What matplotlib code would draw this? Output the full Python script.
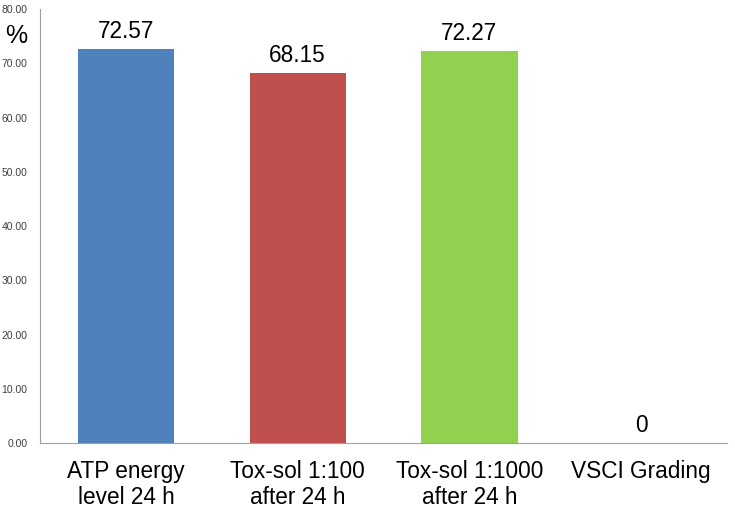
import matplotlib
matplotlib.use("Agg")
import matplotlib.pyplot as plt

categories = ["ATP energy\nlevel 24 h", "Tox-sol 1:100\nafter 24 h", "Tox-sol 1:1000\nafter 24 h", "VSCI Grading"]
values = [72.57, 68.15, 72.27, 0]
value_labels = ["72.57", "68.15", "72.27", "0"]
colors = ["#4f81bd", "#c0504d", "#92d050", "#8064a2"]
yticks = [0, 10, 20, 30, 40, 50, 60, 70, 80]

plt.rcParams['font.family'] = ['Liberation Sans', 'DejaVu Sans']
fig = plt.figure(figsize=(7.35, 5.11), dpi=100)
ax = fig.add_axes([0.0544, 0.133, 0.935, 0.849])
x = range(len(categories))
ax.bar(x, values, width=0.56, color=colors)
for i, (v, lab) in enumerate(zip(values, value_labels)):
    ax.text(i, v + 1.2, lab, ha='center', va='bottom', fontsize=16.3)
ax.set_xlim(-0.5, 3.5)
ax.set_ylim(0, 80)
ax.set_yticks(yticks)
ax.set_yticklabels([f"{t:.2f}" for t in yticks], fontsize=7.5, color='#404040')
ax.set_xticks(list(x))
ax.set_xticklabels(categories, fontsize=16.3, linespacing=1.2)
ax.tick_params(axis='both', length=0)
ax.tick_params(axis='y', pad=9)
ax.tick_params(axis='x', pad=12)
for s in ['top', 'right']:
    ax.spines[s].set_visible(False)
for s in ['left', 'bottom']:
    ax.spines[s].set_color('#a0a0a0')
    ax.spines[s].set_linewidth(0.8)
fig.text(0.022, 0.93, "%", fontsize=18, ha='center', va='center')
fig.savefig("out.png", dpi=100)
